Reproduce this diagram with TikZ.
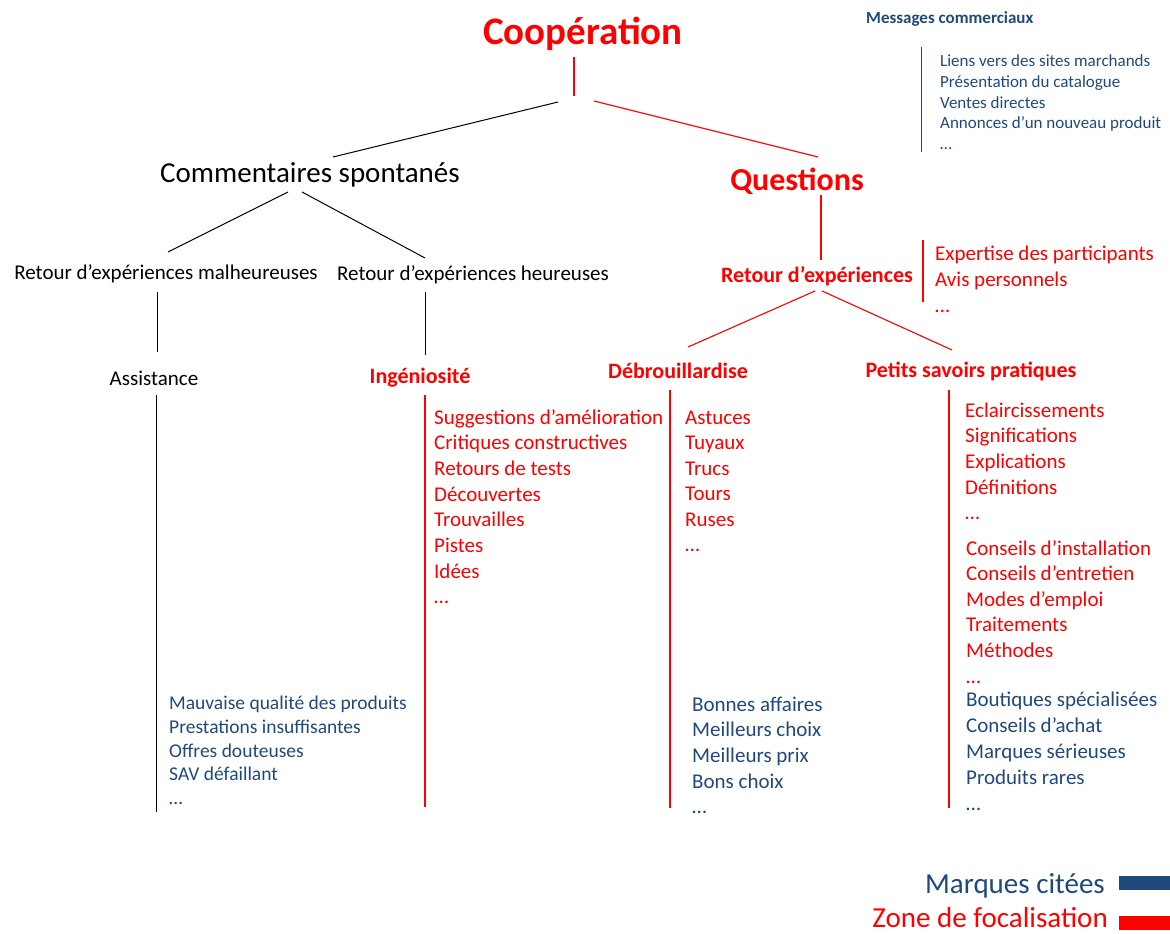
\documentclass[tikz,border=0pt]{standalone}
\usepackage{fontspec}
\setmainfont{Carlito}
\definecolor{myblue}{HTML}{1F497D}
\definecolor{myred}{HTML}{FF0000}
\tikzset{
  lbl/.style={inner sep=0pt, anchor=base},
  itm/.style={inner sep=0pt, anchor=base west},
  redtxt/.style={text=myred},
  bluetxt/.style={text=myblue},
  redline/.style={draw=myred, line width=1.1pt},
  blackline/.style={draw=black, line width=1pt},
  blueline/.style={draw=myblue, line width=1pt},
  f21/.style={font=\fontsize{21}{25}\selectfont},
  f21b/.style={font=\fontsize{22}{26}\selectfont\bfseries},
}
\begin{document}
\begin{tikzpicture}[x=1pt,y=-1pt]
\useasboundingbox (0,0) rectangle (1170,934);

% main titles
\node[lbl,redtxt,font=\fontsize{39}{45}\selectfont\bfseries] (coop) at (583,45) {Coopération};
\node[lbl,redtxt,font=\fontsize{32}{38}\selectfont\bfseries] (quest) at (797,190) {Questions};
\node[lbl,font=\fontsize{29}{34}\selectfont] (comm) at (310,182) {Commentaires spontanés};

\node[lbl,f21] (malh) at (166,279) {Retour d’expériences malheureuses};
\node[lbl,f21] (heur) at (473,280) {Retour d’expériences heureuses};
\node[lbl,redtxt,f21b] (retexp) at (817,282) {Retour d’expériences};

\node[lbl,f21] (assist) at (154,385) {Assistance};
\node[lbl,redtxt,f21b] (ingen) at (420,383) {Ingéniosité};
\node[lbl,redtxt,f21b] (debr) at (678,378) {Débrouillardise};
\node[lbl,redtxt,f21b] (psp) at (971,377) {Petits savoirs pratiques};

% connector end points
\coordinate (c1) at (574,57);  \coordinate (c2) at (574,96);
\coordinate (c3) at (558,102); \coordinate (c4) at (333,157);
\coordinate (c5) at (594,101); \coordinate (c6) at (818,157);
\coordinate (q1) at (821,195); \coordinate (q2) at (821,260);
\coordinate (r1) at (815,291); \coordinate (r2) at (688,347);
\coordinate (r3) at (822,291); \coordinate (r4) at (952,350);
\coordinate (s1) at (288,192); \coordinate (s2) at (168,252);
\coordinate (s3) at (302,192); \coordinate (s4) at (425,258);
\coordinate (m1) at (157,292); \coordinate (m2) at (157,352);
\coordinate (h1) at (425,292); \coordinate (h2) at (425,355);

\draw[redline] (c1) -- (c2);
\draw[blackline] (c3) -- (c4);
\draw[redline] (c5) -- (c6);
\draw[redline] (q1) -- (q2);
\draw[redline] (r1) -- (r2);
\draw[redline] (r3) -- (r4);
\draw[blackline] (s1) -- (s2);
\draw[blackline] (s3) -- (s4);
\draw[blackline] (m1) -- (m2);
\draw[blackline] (h1) -- (h2);

% list bars
\coordinate (b1) at (156,395); \coordinate (b2) at (156,812);
\coordinate (b3) at (425,395); \coordinate (b4) at (425,807);
\coordinate (b5) at (670,390); \coordinate (b6) at (670,808);
\coordinate (b7) at (949,390); \coordinate (b8) at (949,808);
\coordinate (b9) at (923,240); \coordinate (b10) at (923,302);
\coordinate (b11) at (921,47); \coordinate (b12) at (921,152);
\draw[blackline] (b1) -- (b2);
\draw[redline] (b3) -- (b4);
\draw[redline] (b5) -- (b6);
\draw[redline] (b7) -- (b8);
\draw[redline] (b9) -- (b10);
\draw[blueline] (b11) -- (b12);

% lists
\foreach \t [count=\i] in {Suggestions d’amélioration, Critiques constructives, Retours de tests, Découvertes, Trouvailles, Pistes, Idées, …}
  \node[itm,redtxt,f21] (ing\i) at (434,{424+25.7*(\i-1)}) {\t};
\foreach \t [count=\i] in {Astuces, Tuyaux, Trucs, Tours, Ruses, …}
  \node[itm,redtxt,f21] (deb\i) at (685,{424+25.5*(\i-1)}) {\t};
\foreach \t [count=\i] in {Eclaircissements, Significations, Explications, Définitions, …}
  \node[itm,redtxt,f21] (pspa\i) at (965,{417+25.7*(\i-1)}) {\t};
\foreach \t [count=\i] in {Conseils d’installation, Conseils d’entretien, Modes d’emploi, Traitements, Méthodes, …}
  \node[itm,redtxt,f21] (pspb\i) at (966,{555+25.6*(\i-1)}) {\t};
\foreach \t [count=\i] in {Boutiques spécialisées, Conseils d’achat, Marques sérieuses, Produits rares, …}
  \node[itm,bluetxt,f21] (pspc\i) at (966,{706+26*(\i-1)}) {\t};
\foreach \t [count=\i] in {Bonnes affaires, Meilleurs choix, Meilleurs prix, Bons choix, …}
  \node[itm,bluetxt,f21] (debb\i) at (692,{711+25.7*(\i-1)}) {\t};
\foreach \t [count=\i] in {Mauvaise qualité des produits, Prestations insuffisantes, Offres douteuses, SAV défaillant, …}
  \node[itm,bluetxt,font=\fontsize{19.5}{23}\selectfont] (ass\i) at (169,{709.5+23.8*(\i-1)}) {\t};
\foreach \t [count=\i] in {Expertise des participants, Avis personnels, …}
  \node[itm,redtxt,f21] (exp\i) at (935,{260+26*(\i-1)}) {\t};
\foreach \t [count=\i] in {Liens vers des sites marchands, Présentation du catalogue, Ventes directes, Annonces d’un nouveau produit, …}
  \node[itm,bluetxt,font=\fontsize{17}{20}\selectfont] (msg\i) at (940,{66.6+20.7*(\i-1)}) {\t};
\node[itm,bluetxt,font=\fontsize{17}{20}\selectfont\bfseries] (msgtitle) at (866,23.5) {Messages commerciaux};

% legend
\node[inner sep=0pt,anchor=base east,bluetxt,font=\fontsize{29}{34}\selectfont] (legb) at (1105,893) {Marques citées};
\node[inner sep=0pt,anchor=base east,redtxt,font=\fontsize{29}{34}\selectfont] (legr) at (1108,927) {Zone de focalisation};
\fill[myblue] (1119,876) rectangle (1170,890);
\fill[myred] (1119,916) rectangle (1170,930);
\end{tikzpicture}
\end{document}
